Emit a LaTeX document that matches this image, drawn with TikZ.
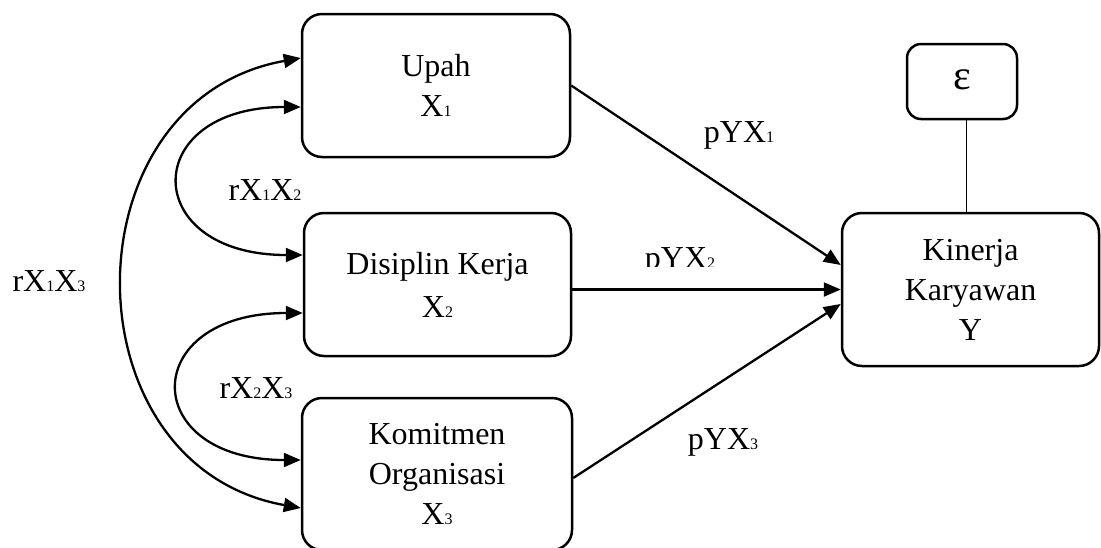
\documentclass[tikz,border=0pt]{standalone}
\usepackage{fontspec}
\setmainfont{Liberation Serif}
\usetikzlibrary{arrows.meta}
\newcommand\sbd[1]{{\fontsize{16}{16}\selectfont #1}}
\begin{document}
\begin{tikzpicture}[x=1pt,y=-1pt,
  font=\fontsize{32}{40}\selectfont,
  box/.style={draw, line width=2.5pt, rounded corners=20pt, align=center, inner sep=0pt},
  conn/.style={line width=2.3pt, -{Triangle[length=17pt,width=14pt]}},
  corr/.style={line width=2.3pt, {Triangle[length=17pt,width=14pt]}-{Triangle[length=17pt,width=14pt]}},
  lbl/.style={anchor=base, inner sep=0pt}]
\useasboundingbox (0,0) rectangle (1101,547);
% boxes
\node[box, minimum width=268pt, minimum height=143pt] (x1) at (436,85.5) {Upah\\X\sbd{1}};
\node[box, minimum width=267pt, minimum height=143pt] (x2) at (437.5,284.5) {Disiplin Kerja\\[3pt]X\sbd{2}};
\node[box, minimum width=270pt, minimum height=152pt] (x3) at (437,474) {Komitmen\\Organisasi\\X\sbd{3}};
\node[box, minimum width=257pt, minimum height=153pt] (y) at (970.5,289.5) {Kinerja\\Karyawan\\Y};
\node[box, rounded corners=14pt, minimum width=110pt, minimum height=75pt] (eps) at (962,81.5) {\raisebox{3pt}{\fontsize{42}{42}\selectfont ε}};
% error line
\draw[line width=1.3pt] ([xshift=4.5pt]eps.south) -- ([xshift=4.5pt]eps.south |- y.north);
% paths
\draw[conn] (x1.east) -- ([yshift=24.5pt]y.west);
\draw[conn] (x2.east |- y.west) -- (y.west);
\draw[conn] ([yshift=-4pt]x3.east) -- ([yshift=-14.5pt]y.west);
% correlations
\draw[corr] ([yshift=-34pt]x3.west) .. controls (65,466) and (65,100) .. ([yshift=27.5pt]x1.west);
\draw[corr] ([yshift=29.5pt]x2.west) .. controls (139,255) and (139,107) .. ([yshift=-21.5pt]x1.west);
\draw[corr] ([yshift=14pt]x3.west) .. controls (138,460) and (138,313) .. ([yshift=-28.5pt]x2.west);
% labels
\node[lbl] (l13) at (49,291) {rX\sbd{1}X\sbd{3}};
\node[lbl] (l12) at (265,200) {rX\sbd{1}X\sbd{2}};
\node[lbl] (l23) at (256,398) {rX\sbd{2}X\sbd{3}};
\node[lbl] (p1) at (739,142) {pYX\sbd{1}};
\begin{scope}
\clip (600,230) rectangle (760,266.5);
\node[lbl] (p2) at (680,268.5) {pYX\sbd{2}};
\end{scope}
\node[lbl] (p3) at (723,449) {pYX\sbd{3}};
\end{tikzpicture}
\end{document}
